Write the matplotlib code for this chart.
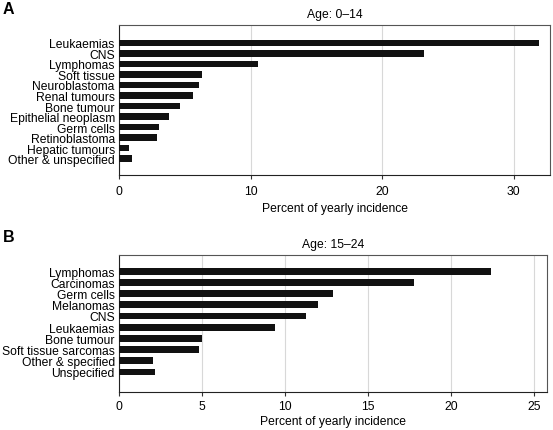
import matplotlib
matplotlib.use("Agg")
import matplotlib.pyplot as plt
import numpy as np

plt.rcParams['font.family'] = ['Liberation Sans', 'DejaVu Sans']

cats_a = ["Leukaemias", "CNS", "Lymphomas", "Soft tissue", "Neuroblastoma",
          "Renal tumours", "Bone tumour", "Epithelial neoplasm", "Germ cells",
          "Retinoblastoma", "Hepatic tumours", "Other & unspecified"]
vals_a = [31.9, 23.2, 10.6, 6.3, 6.1, 5.65, 4.6, 3.8, 3.04, 2.9, 0.78, 0.99]
ticks_a = [0, 10, 20, 30]

cats_b = ["Lymphomas", "Carcinomas", "Germ cells", "Melanomas", "CNS",
          "Leukaemias", "Bone tumour", "Soft tissue sarcomas",
          "Other & specified", "Unspecified"]
vals_b = [22.45, 17.8, 12.9, 11.97, 11.28, 9.43, 5.03, 4.83, 2.05, 2.17]
ticks_b = [0, 5, 10, 15, 20, 25]

W, H = 553, 431
fig = plt.figure(figsize=(W / 100, H / 100), dpi=100)
FS = 8.7

def px_axes(l, t, r, b):
    return fig.add_axes([l / W, 1 - b / H, (r - l) / W, (b - t) / H])

def panel(ax, cats, vals, ticks, xmax, ylim, title, pad, labelpad):
    y = np.arange(len(cats))
    ax.barh(y, vals, height=0.6, color="#111111", zorder=3)
    ax.set_xlim(0, xmax)
    ax.set_ylim(*ylim)
    ax.set_yticks(y)
    ax.set_yticklabels(cats, fontsize=FS)
    ax.tick_params(axis="y", length=0, pad=3)
    ax.set_xticks(ticks)
    ax.set_xticklabels([str(t) for t in ticks], fontsize=FS)
    ax.tick_params(axis="x", length=3, width=0.8, color="#333333", pad=pad)
    ax.xaxis.grid(True, color="#d8d8d8", linewidth=0.8, zorder=0)
    ax.set_axisbelow(True)
    for s in ax.spines.values():
        s.set_color("#555555")
        s.set_linewidth(0.8)
    ax.spines["left"].set_color("#222222")
    ax.spines["bottom"].set_color("#222222")
    ax.set_xlabel("Percent of yearly incidence", fontsize=FS, labelpad=labelpad)
    ax.set_title(title, fontsize=FS, pad=6)

ax1 = px_axes(119, 26, 550, 175.5)
panel(ax1, cats_a, vals_a, ticks_a, 32.75, (12.52, -1.71), "Age: 0\u201314", 4.5, 3.5)

ax2 = px_axes(119, 256, 547, 392.5)
panel(ax2, cats_b, vals_b, ticks_b, 25.8, (10.75, -1.45), "Age: 15\u201324", 3, 2.5)

fig.text(3 / W, 1 - 10 / H, "A", fontsize=11.5, fontweight="bold", va="center", ha="left")
fig.text(3 / W, 1 - 238 / H, "B", fontsize=11.5, fontweight="bold", va="center", ha="left")

fig.savefig("out.png", dpi=100)
